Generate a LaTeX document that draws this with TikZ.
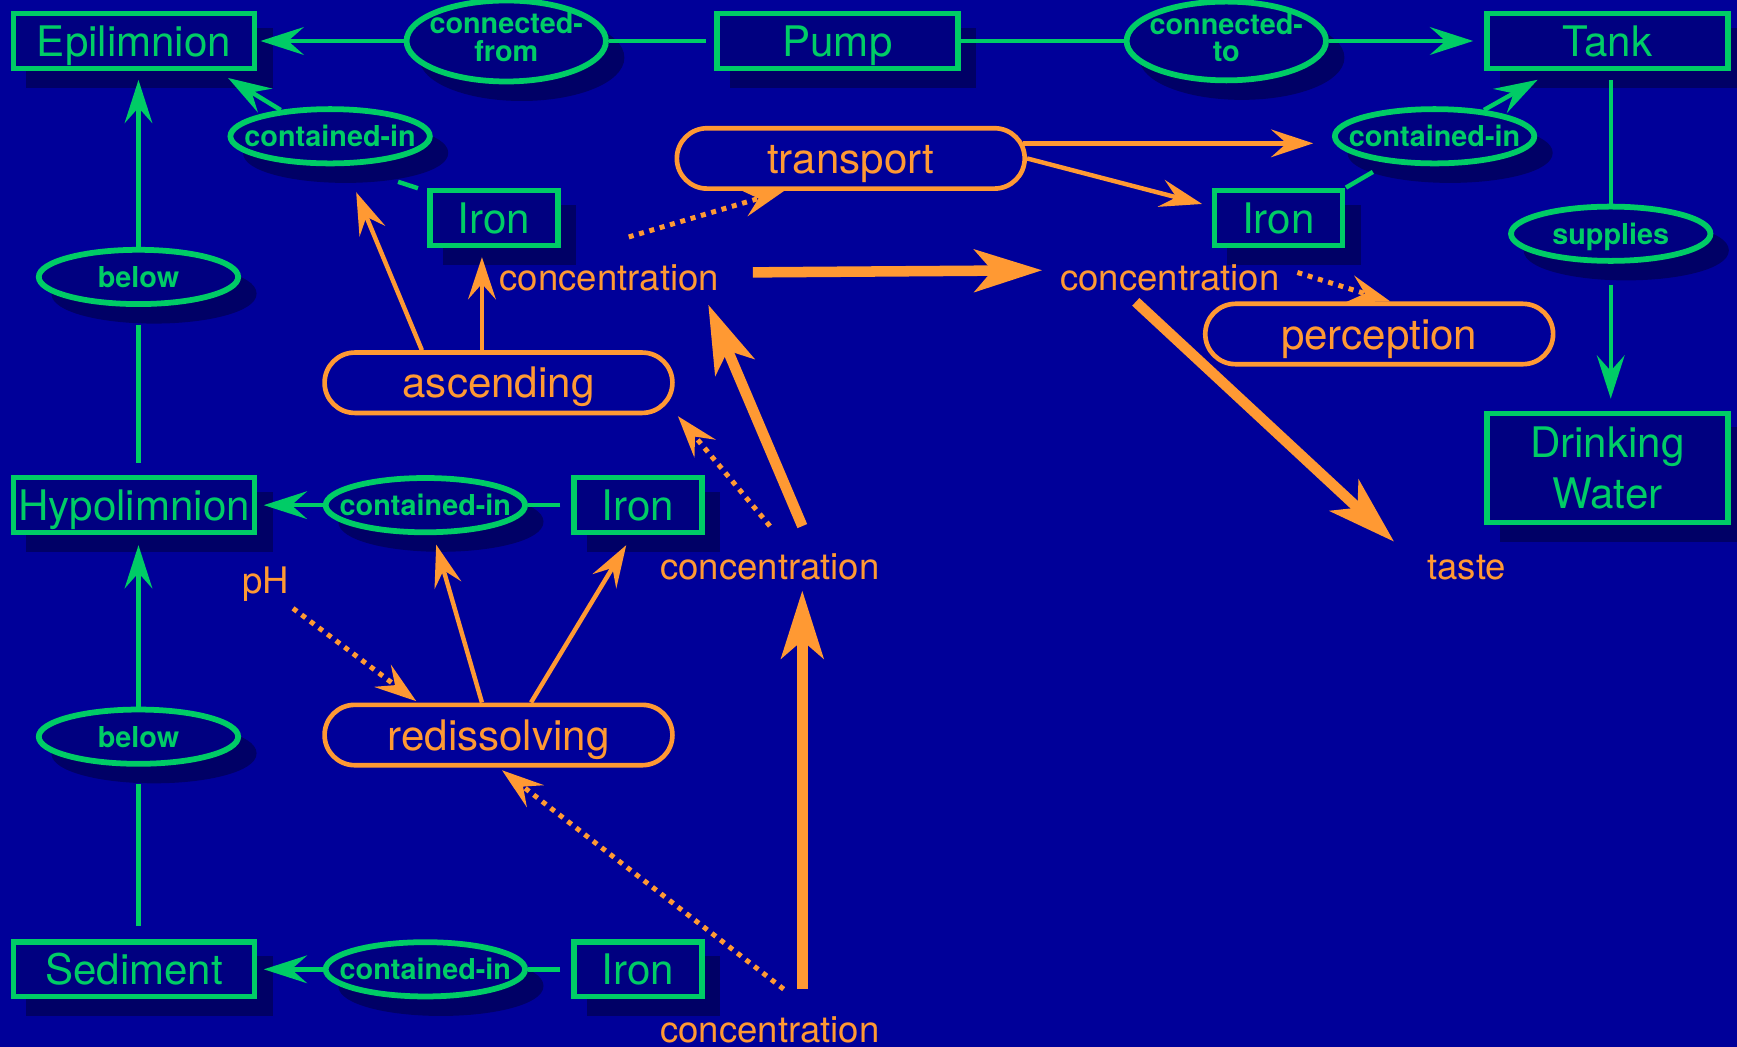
\documentclass[tikz,border=0pt]{standalone}
\usepackage{fontspec}
\setmainfont{TeX Gyre Heros}
\usetikzlibrary{arrows.meta,shapes.geometric,shapes.misc,shadows}
\definecolor{bgblue}{RGB}{0,0,153}
\definecolor{boxfill}{RGB}{0,0,128}
\definecolor{shadowblue}{RGB}{0,0,102}
\definecolor{kgreen}{RGB}{0,204,102}
\definecolor{porange}{RGB}{255,153,51}
\tikzset{
  dshadow/.style={drop shadow={shadow xshift=14pt,shadow yshift=-15pt,fill=shadowblue,draw=shadowblue,opacity=1}},
  thing/.style={rectangle, draw=kgreen, line width=4.8pt, fill=boxfill, dshadow,
    text=kgreen, inner sep=0pt, minimum width=217.5pt, minimum height=49.5pt,
    font=\fontsize{38}{46}\selectfont, text height=27.4pt, text depth=0pt},
  small/.style={minimum width=115.5pt},
  relbase/.style={ellipse, draw=kgreen, line width=5.2pt, fill=boxfill, dshadow,
    text=kgreen, inner sep=0pt, minimum width=180pt, minimum height=49pt,
    font=\bfseries\fontsize{26}{23}\selectfont},
  rel/.style={relbase, text height=18.7pt, text depth=0pt},
  process/.style={rounded rectangle, draw=porange, line width=4.2pt, text=porange,
    inner sep=0pt, minimum width=314pt, minimum height=54.5pt,
    font=\fontsize{38}{46}\selectfont, text height=27.4pt, text depth=0pt},
  attr/.style={text=porange, font=\fontsize{33}{36}\selectfont, text height=23.8pt,
    text depth=0pt, inner xsep=16pt, inner ysep=24pt},
  gline/.style={draw=kgreen, line width=4pt},
  garrow/.style={gline, -{Stealth[length=39pt,width=25pt,inset=14pt]}},
  oline/.style={draw=porange, line width=4pt},
  oarrow/.style={oline, -{Stealth[length=38pt,width=25pt,inset=14pt]}},
  othick/.style={draw=porange, line width=9.5pt, -{Stealth[length=61pt,width=38pt,inset=16pt]}},
  odot/.style={oarrow, line width=4.5pt, dash pattern=on 4.5pt off 5.2pt},
}
\begin{document}
\begin{tikzpicture}[x=1pt,y=-1pt]
\fill[bgblue] (0,0) rectangle (1568,945);
\useasboundingbox (0,0) rectangle (1568,945);

% objects
\node[thing] (epi) at (121,37) {Epilimnion};
\node[thing] (pump) at (756,37) {Pump};
\node[thing] (tank) at (1451,37) {Tank};
\node[thing,small] (ironA) at (446,197) {Iron};
\node[thing,small] (ironB) at (1154,197) {Iron};
\node[thing, minimum height=98.5pt, text height=, text depth=, align=center] (dw) at (1451,422.5) {Drinking\\Water};
\node[thing] (hypo) at (121,456) {Hypolimnion};
\node[thing,small] (ironC) at (576,456) {Iron};
\node[thing] (sed) at (121,875) {Sediment};
\node[thing,small] (ironD) at (576,875) {Iron};

% relations
\node[relbase] (cfrom) at (457,37) {\makebox[0pt]{\begin{tabular}{@{}c@{}}connected-\\from\end{tabular}}};
\node[relbase] (cto) at (1107,37) {\makebox[0pt]{\begin{tabular}{@{}c@{}}connected-\\to\end{tabular}}};
\node[rel] (ciA) at (298,123) {\makebox[0pt]{contained-in}};
\node[rel] (ciB) at (1295,123) {\makebox[0pt]{contained-in}};
\node[rel] (sup) at (1454,211) {\makebox[0pt]{supplies}};
\node[rel] (belowA) at (125,250) {\makebox[0pt]{below}};
\node[rel] (belowB) at (125,665) {\makebox[0pt]{below}};
\node[rel] (ciC) at (384,456) {\makebox[0pt]{contained-in}};
\node[rel] (ciD) at (384,875) {\makebox[0pt]{contained-in}};

% processes
\node[process] (transport) at (768,143) {transport};
\node[process] (ascending) at (450,345.5) {ascending};
\node[process] (redis) at (450,663.5) {redissolving};
\node[process] (percep) at (1245,301.5) {perception};

% attributes
\node[attr] (conc1) at (550,250) {concentration};
\node[attr] (conc2) at (1056,250) {concentration};
\node[attr] (conc3) at (695,511) {concentration};
\node[attr] (conc4) at (695,929) {concentration};
\node[attr] (pH) at (240,524) {pH};
\node[attr] (taste) at (1324,511) {taste};

% green relation links
\draw[gline, shorten <=8pt] (pump.west) -- (cfrom.east);
\draw[garrow, shorten >=3pt] (cfrom.west) -- (epi.east);
\draw[gline] (pump.east) -- (cto.west);
\draw[garrow, shorten >=10pt] (cto.east) -- (tank.west);
\draw[gline, shorten <=9pt, shorten >=47pt] (ironA.158) -- (ciA.-58);
\draw[garrow, shorten >=12pt] (ciA.152) -- (epi.-20);
\draw[gline, shorten <=1pt, shorten >=16pt] (ironB.north east) -- (ciB.-150);
\draw[garrow, shorten >=16pt] (ciB.28) -- (tank.-151);
\draw[gline, shorten >=8pt] (sup.north) -- (sup.north |- tank.south);
\draw[garrow, shorten <=19pt, shorten >=11pt] (sup.south) -- (sup.south |- dw.north);
\draw[gline, shorten <=16pt, shorten >=11pt] (belowA.south) -- (belowA.south |- hypo.north);
\draw[garrow, shorten >=8pt] (belowA.north) -- (belowA.north |- epi.south);
\draw[gline, shorten <=10pt] (ironC.west) -- (ciC.east);
\draw[garrow, shorten >=6pt] (ciC.west) -- (hypo.east);
\draw[gline, shorten <=10pt] (ironD.west) -- (ciD.east);
\draw[garrow, shorten >=6pt] (ciD.west) -- (sed.east);
\draw[gline, shorten <=16pt, shorten >=12pt] (belowB.south) -- (belowB.south |- sed.north);
\draw[garrow, shorten >=9pt] (belowB.north) -- (belowB.north |- hypo.south);

% orange process links
\draw[oarrow, shorten >=17pt] (transport.5.5) -- (transport.5.5 -| ciB.west);
\draw[oarrow, shorten >=9pt] (transport.east) -- (ironB.170);
\draw[odot] (conc1.64.7) -- (transport.-154.6);
\draw[othick, shorten <=14.5pt] (conc1.2.95) -- (conc2.177.05);
\draw[odot] (conc2.2.46) -- (percep.71);
\draw[othick, shorten <=-20pt, shorten >=19pt] (conc2.-114) -- (taste.170.2);
\draw[othick, shorten >=-12pt] (conc3.51.1) -- (conc1.-21.4);
\draw[odot, shorten >=15pt] (conc3.north) -- (ascending.-7.3);
\draw[othick, shorten >=-14pt] (conc4.51.1) -- (conc3.-51.1);
\draw[odot, shorten >=4pt] (conc4.71.1) -- (redis.south);
\draw[odot, shorten <=-16pt, shorten >=2pt] (pH.-43.3) -- (redis.158.5);
\draw[oarrow, shorten >=25.7pt] (ascending.157.7) -- (ciA.-63.6);
\draw[oarrow, shorten >=8pt] (ascending.117) -- (ascending.117 |- ironA.south);
\draw[oarrow, shorten >=9pt] (redis.117) -- (ciC.-75);
\draw[oarrow, shorten >=10.5pt] (redis.45.2) -- (ironC.-101.9);
\end{tikzpicture}
\end{document}
